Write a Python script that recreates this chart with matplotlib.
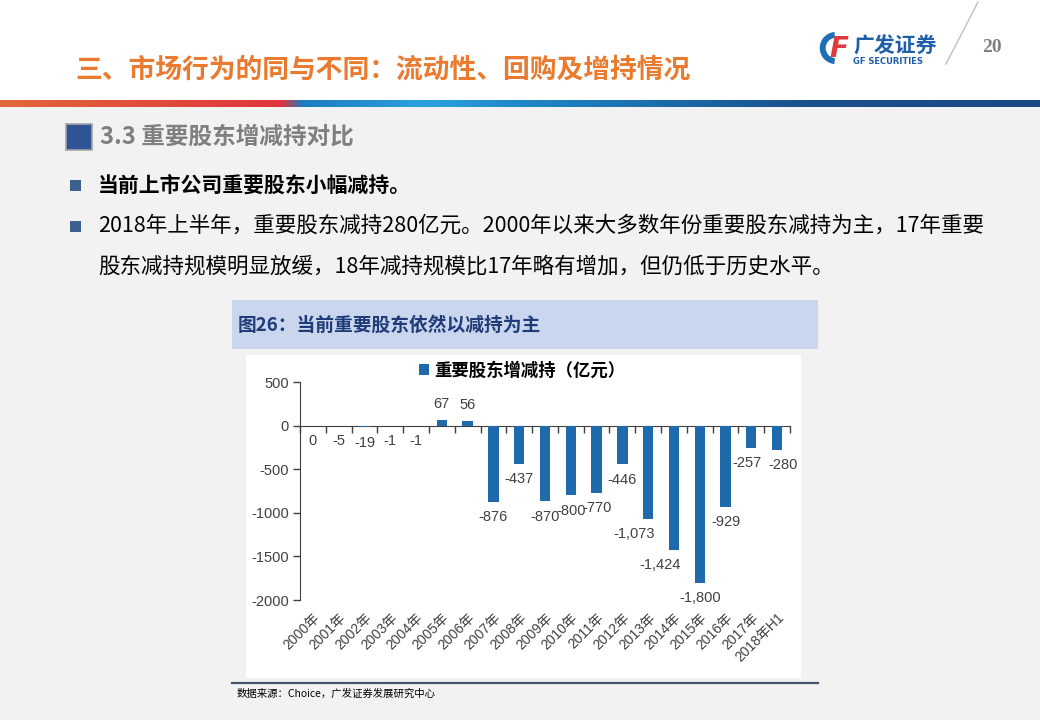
import numpy as np
import matplotlib
matplotlib.use("Agg")
import matplotlib.pyplot as plt
from matplotlib.colors import LinearSegmentedColormap
from matplotlib.patches import Rectangle, Wedge
from matplotlib.lines import Line2D

plt.rcParams['font.family'] = ['Noto Sans CJK SC', 'DejaVu Sans']

# -------------------------------------------------------------------------
# Data
# -------------------------------------------------------------------------
years = ['2000年', '2001年', '2002年', '2003年', '2004年', '2005年', '2006年',
         '2007年', '2008年', '2009年', '2010年', '2011年', '2012年', '2013年',
         '2014年', '2015年', '2016年', '2017年', '2018年H1']
net_change = [0, -5, -19, -1, -1, 67, 56, -876, -437, -870, -800, -770,
              -446, -1073, -1424, -1800, -929, -257, -280]
y_ticks = [500, 0, -500, -1000, -1500, -2000]
series_name = '重要股东增减持（亿元）'

W, H = 1040, 720


def fx(x):
    return x / W


def fy(y):
    return 1 - y / H


def frect(x0, y0, x1, y1):
    # pixel box (top-left origin) -> figure rect [l, b, w, h]
    return [fx(x0), fy(y1), (x1 - x0) / W, (y1 - y0) / H]


def add_box(x0, y0, x1, y1, **kw):
    fig.patches.append(Rectangle((fx(x0), fy(y1)), (x1 - x0) / W, (y1 - y0) / H,
                                 transform=fig.transFigure, zorder=-1, **kw))


fig = plt.figure(figsize=(10.4, 7.2), dpi=100, facecolor='#F2F2F2')

# -------------------------------------------------------------------------
# Slide frame
# -------------------------------------------------------------------------
add_box(0, 0, W, 100, facecolor='white', edgecolor='none')

# gradient strip
gax = fig.add_axes(frect(0, 100, W, 107))
cmap = LinearSegmentedColormap.from_list('strip', [
    (0.0, '#E2683A'), (0.27, '#E0343E'), (0.29, '#1D7CBD'),
    (0.41, '#2AA3DC'), (0.50, '#1E88C6'), (0.78, '#1A4F8C'), (1.0, '#1A4A84')])
gax.imshow(np.linspace(0, 1, 512)[None, :], aspect='auto', cmap=cmap)
gax.axis('off')

fig.text(fx(75), fy(70), '三、市场行为的同与不同：流动性、回购及增持情况',
         fontsize=19.3, fontweight='bold', color='#EA7A2E', va='center', ha='left')

# logo
lax = fig.add_axes(frect(818, 28, 852, 68))
lax.set_xlim(-1, 1)
lax.set_ylim(-1.18, 1.18)
lax.set_aspect('equal')
lax.add_patch(Wedge((0.05, 0), 0.95, 95, 265, width=0.35, facecolor='#1F6FB5'))
lax.text(0.25, -0.05, 'F', fontsize=20, fontweight='bold', color='#E0393E',
         ha='center', va='center', style='italic', family='DejaVu Sans')
lax.axis('off')
fig.text(fx(853), fy(46), '广发证券', fontsize=15, fontweight='bold', color='#1F5FA8',
         va='center', ha='left')
fig.text(fx(853), fy(62), 'GF SECURITIES', fontsize=6, fontweight='bold', color='#1F5FA8',
         va='center', ha='left', family='DejaVu Sans')
fig.add_artist(Line2D([fx(978), fx(946)], [fy(2), fy(64)], transform=fig.transFigure,
                      color='#BFBFBF', lw=1))
fig.text(fx(992), fy(48), '20', fontsize=14, color='#808080', va='center', ha='center',
         family='Liberation Serif', fontweight='bold')

# section header
add_box(66, 124, 92, 150, facecolor='#2F5597', edgecolor='#A6A6A6', lw=1.2)
fig.text(fx(100), fy(137), '3.3 重要股东增减持对比', fontsize=17, fontweight='bold',
         color='#7F7F7F', va='center', ha='left')

# bullets
for by in (185, 226):
    add_box(70, by - 5.5, 81, by + 5.5, facecolor='#3B5F8E', edgecolor='none')
fig.text(fx(98), fy(185), '当前上市公司重要股东小幅减持。', fontsize=15, fontweight='bold',
         color='black', va='center', ha='left')
fig.text(fx(98), fy(226), '2018年上半年，重要股东减持280亿元。2000年以来大多数年份重要股东减持为主，17年重要',
         fontsize=15.5, color='black', va='center', ha='left')
fig.text(fx(98), fy(267), '股东减持规模明显放缓，18年减持规模比17年略有增加，但仍低于历史水平。',
         fontsize=15.5, color='black', va='center', ha='left')

# chart caption bar
add_box(232, 300, 818, 349, facecolor='#C9D6EE', edgecolor='none')
fig.text(fx(238), fy(325), '图26：当前重要股东依然以减持为主', fontsize=13.5, fontweight='bold',
         color='#1F3B78', va='center', ha='left')

# white chart panel
add_box(246, 355, 801, 678, facecolor='white', edgecolor='none')
fig.add_artist(Line2D([fx(232), fx(818)], [fy(683), fy(683)], transform=fig.transFigure,
                      color='#44546A', lw=1.6))
fig.text(fx(237), fy(694), '数据来源：Choice，广发证券发展研究中心', fontsize=7.5,
         color='black', va='center', ha='left')

# -------------------------------------------------------------------------
# Bar chart
# -------------------------------------------------------------------------
bar_color = '#1F6AAB'
ax = fig.add_axes(frect(300, 382, 790, 600))
ax.patch.set_alpha(0)
x = np.arange(len(years))
ax.bar(x, net_change, width=0.4, color=bar_color, label=series_name, zorder=3)

ax.set_xlim(-0.5, len(years) - 0.5)
ax.set_ylim(-2000, 500)
ax.set_yticks(y_ticks)
ax.set_yticklabels([str(v) for v in y_ticks], family='Liberation Sans', fontsize=10.5,
                   color='#404040')
ax.tick_params(axis='y', direction='out', length=5, width=1, color='#404040', pad=3)

# zero line as top spine with tick marks at category edges
for s in ('right', 'bottom'):
    ax.spines[s].set_visible(False)
ax.spines['top'].set_position(('data', 0))
ax.spines['top'].set_color('#404040')
ax.spines['left'].set_color('#404040')
ax.set_xticks(x)
ax.set_xticklabels(years, rotation=45, ha='right', rotation_mode='anchor',
                   family=['Liberation Sans', 'Noto Sans CJK SC'], fontsize=10,
                   color='#404040')
ax.set_xticks(np.arange(-0.5, len(years), 1.0), minor=True)
ax.tick_params(axis='x', which='major', bottom=False, top=False, labelbottom=True,
               labeltop=False, pad=4)
ax.tick_params(axis='x', which='minor', bottom=False, top=True, direction='in',
               length=5, width=1, color='#404040', labeltop=False, labelbottom=False)

# value labels
nudge = {13: -10, 14: -10, 17: -3, 18: 4}
for i, v in enumerate(net_change):
    lbl = f'{v:,}'
    dx = nudge.get(i, 0)
    if v > 0:
        ax.annotate(lbl, (i, v), xytext=(dx, 6), textcoords='offset points',
                    ha='center', va='bottom', fontsize=10.5, family='Liberation Sans',
                    color='#404040')
    else:
        ax.annotate(lbl, (i, v), xytext=(dx, -6), textcoords='offset points',
                    ha='center', va='top', fontsize=10.5, family='Liberation Sans',
                    color='#404040')

ax.legend(loc='center left', bbox_to_anchor=(0.21, 1.05), frameon=False,
          handlelength=0.6, handleheight=0.6, handletextpad=0.3,
          prop={'family': ['Noto Sans CJK SC'], 'size': 12.5, 'weight': 'bold'})

fig.savefig('out.png', dpi=100, facecolor=fig.get_facecolor())
